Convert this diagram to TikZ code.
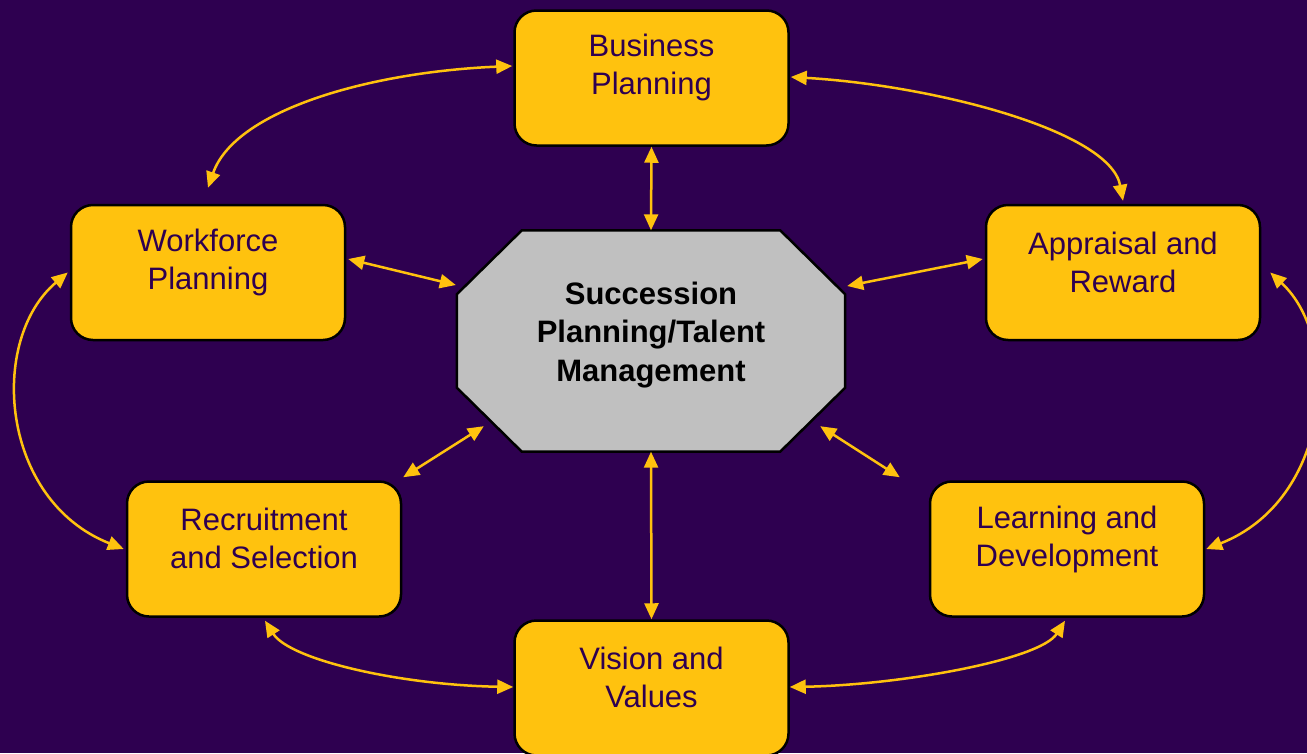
\documentclass[tikz,border=0pt]{standalone}
\usepackage{fontspec}
\setmainfont{Liberation Sans}
\usetikzlibrary{arrows.meta,calc}
\definecolor{bg}{HTML}{2E0050}
\definecolor{gold}{HTML}{FFC20E}
\definecolor{octgray}{HTML}{C0C0C0}
\begin{document}
\begin{tikzpicture}[x=1pt,y=-1pt,
  box/.style={draw=black,line width=2.5pt,fill=gold,rounded corners=22pt,
    minimum width=274pt,minimum height=135pt,inner sep=0pt},
  lbl/.style={text=bg,align=center,font=\fontsize{31}{38}\selectfont,inner sep=0pt},
  link/.style={gold,line width=2.5pt,
    {Triangle[length=16pt,width=14pt]}-{Triangle[length=16pt,width=14pt]}}]
\clip (0,0) rectangle (1307,753);
\fill[bg] (0,0) rectangle (1307,753);

% boxes
\node[box] (bp) at (651.5,78) {};
\node[box] (wf) at (208,272.5) {};
\node[box] (ar) at (1123,272.5) {};
\node[box] (rs) at (264,549) {};
\node[box] (ld) at (1067,549) {};
\node[box] (vv) at (651.5,688) {};

\node[lbl] (bpt) at ($(bp.center)+(0,-11)$) {Business\\Planning};
\node[lbl] (wft) at ($(wf.center)+(0,-10)$) {Workforce\\Planning};
\node[lbl] (art) at ($(ar.center)+(0,-10.5)$) {Appraisal and\\Reward};
\node[lbl] (rst) at ($(rs.center)+(0,-10.5)$) {Recruitment\\and Selection};
\node[lbl] (ldt) at ($(ld.center)+(0,-10)$) {Learning and\\Development};
\node[lbl] (vvt) at ($(vv.center)+(0,-11)$) {Vision and\\Values};

% central octagon
\node[minimum width=388pt,minimum height=221pt,inner sep=0pt] (oct) at (651,341) {};
\filldraw[fill=octgray,draw=black,line width=2.5pt]
  ($(oct.north west)+(65,0)$) -- ($(oct.north east)+(-65,0)$)
  -- ($(oct.north east)+(0,64)$) -- ($(oct.south east)+(0,-64)$)
  -- ($(oct.south east)+(-65,0)$) -- ($(oct.south west)+(65,0)$)
  -- ($(oct.south west)+(0,-64)$) -- ($(oct.north west)+(0,64)$) -- cycle;
\node[align=center,inner sep=0pt,font=\bfseries\fontsize{31}{38.5}\selectfont] (octt)
  at ($(oct.center)+(0,-6)$) {Succession\\Planning/Talent\\Management};

% straight connectors
\draw[link] (bp.south) -- (oct.north);
\draw[link] (oct.south) -- (vv.north);
\draw[link] ($(wf.east)+(2,-13.5)$) -- ($(oct.west)+(-1,-56)$);
\draw[link] ($(ar.west)+(-2,-13.5)$) -- ($(oct.east)+(2,-55)$);
\draw[link] ($(rs.north east)+(1,-3)$) -- ($(oct.south west)+(27,-25.5)$);
\draw[link] ($(ld.north west)+(-29,-3)$) -- ($(oct.south east)+(-25,-25.5)$);

% curved connectors
\draw[link] ($(bp.west)+(-1,-12)$) .. controls (370,72) and (235,110) .. ($(wf.north)+(0,-16)$);
\draw[link] ($(bp.east)+(1,-1)$) .. controls (930,85) and (1110,130) .. ($(ar.north)+(0,-3)$);
\draw[link] ($(wf.west)+(-2,0)$) .. controls (-12,340) and (0,500) .. ($(rs.west)+(-2,0)$);
\draw[link] ($(ar.east)+(9,0)$) .. controls (1343,340) and (1331,500) .. ($(ld.east)+(1,0)$);
\draw[link] ($(rs.south)+(1,3)$) .. controls (290,660) and (400,685) .. ($(vv.west)+(0,-1)$);
\draw[link] ($(ld.south)+(-2,3)$) .. controls (1040,660) and (900,685) .. ($(vv.east)+(0,-1)$);
\end{tikzpicture}
\end{document}
